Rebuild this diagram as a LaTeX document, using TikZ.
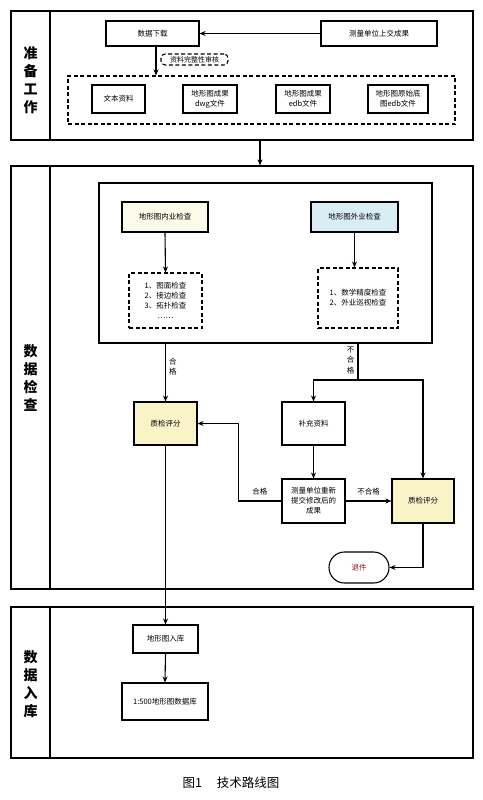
\documentclass[tikz,border=0pt]{standalone}
\usepackage{fontspec}
\setmainfont{Noto Sans CJK SC}
\usetikzlibrary{arrows.meta,shapes.misc}
\definecolor{qyel}{HTML}{F8F4C8}
\definecolor{lyel}{HTML}{FBFBEA}
\definecolor{lblue}{HTML}{D8EEF4}
\definecolor{dred}{HTML}{8B1A1A}
\tikzset{
  frame/.style={draw, line width=1.2pt, inner sep=0pt},
  box/.style={draw, line width=1.1pt, align=center, font=\fontsize{7.5}{10}\selectfont, inner sep=1pt},
  dbox/.style={draw, dashed, dash pattern=on 4pt off 2.5pt, line width=1.1pt, align=center, font=\fontsize{7.5}{10}\selectfont, inner sep=1pt},
  sect/.style={align=center, font=\fontsize{14}{18}\selectfont\bfseries},
  lab/.style={align=center, font=\fontsize{7.5}{10.5}\selectfont, inner sep=1pt},
  arr/.style={-{Stealth[length=6pt,width=5pt]}, line width=1.1pt},
  ln/.style={line width=1.1pt}
}
\begin{document}
\begin{tikzpicture}[x=1pt,y=-1pt]
\useasboundingbox (0,0) rectangle (482,800);
% frames
\node[frame, minimum width=462pt, minimum height=129pt] (f1) at (242,75.5) {};
\node[frame, minimum width=462pt, minimum height=423pt] (f2) at (242,377.5) {};
\node[frame, minimum width=462pt, minimum height=151pt] (f3) at (242,682.5) {};
\draw[line width=1.2pt] (50,11) -- (50,140);
\draw[line width=1.2pt] (50,166) -- (50,589);
\draw[line width=1.2pt] (50,607) -- (50,758);
\node[sect] (s1) at (30.5,80) {准\\备\\工\\作};
\node[sect] (s2) at (30.5,377.5) {数\\据\\检\\查};
\node[sect] (s3) at (30.5,684) {数\\据\\入\\库};
% part 1
\node[box, minimum width=93pt, minimum height=25pt] (dl) at (152.5,33.5) {数据下载};
\node[box, minimum width=116pt, minimum height=25pt] (sub) at (379,33.5) {测量单位上交成果};
\node[dbox, minimum width=387pt, minimum height=48pt] (db) at (261.5,100) {};
\node[dbox, rounded corners=4pt, minimum width=67pt, minimum height=11pt, font=\fontsize{7}{8}\selectfont, inner sep=0.5pt] (rev) at (194.5,59.5) {资料完整性审核};
\node[box, minimum width=53pt, minimum height=28pt] (b1) at (118.5,99) {文本资料};
\node[box, minimum width=54pt, minimum height=28pt] (b2) at (210,99) {地形图成果\\dwg文件};
\node[box, minimum width=54pt, minimum height=28pt] (b3) at (303,99) {地形图成果\\edb文件};
\node[box, minimum width=60pt, minimum height=28pt] (b4) at (398,99) {地形图原始底\\图edb文件};
\draw[arr] (sub.west) -- (dl.east);
\coordinate (dls) at (156,46);
\draw[arr] (dls) -- (dls |- db.north);
\coordinate (a1) at (260,140);
\draw[arr] (a1) -- (a1 |- f2.north);
% part 2
\node[draw, line width=1.2pt, minimum width=333pt, minimum height=160pt] (ib) at (265.5,263) {};
\node[box, fill=lyel, minimum width=86pt, minimum height=30pt] (nei) at (165,217) {地形图内业检查};
\node[box, fill=lblue, minimum width=87pt, minimum height=30pt] (wai) at (354.5,217) {地形图外业检查};
\node[dbox, minimum width=73pt, minimum height=55pt] (d1) at (165.5,300.5) {1、图面检查\\2、接边检查\\3、拓扑检查\\……};
\node[dbox, minimum width=80pt, minimum height=60pt] (d2) at (358,298) {1、数学精度检查\\2、外业巡视检查};
\draw[arr] (nei.south) -- (d1.north);
\draw[arr] (wai.south) -- (wai.south |- d2.north);
\node[box, fill=qyel, minimum width=63pt, minimum height=43pt] (q1) at (165.5,423.5) {质检评分};
\node[box, minimum width=63pt, minimum height=43pt] (bc) at (313.5,423.5) {补充资料};
\node[box, minimum width=63pt, minimum height=44pt] (cl) at (313.5,501) {测量单位重新\\提交修改后的\\成果};
\node[box, fill=qyel, minimum width=62pt, minimum height=44pt] (q2) at (423,501) {质检评分};
\node[box, rounded rectangle, minimum width=62pt, minimum height=31pt, text=dred] (tj) at (359,567.5) {退件};
\draw[arr] (ib.south -| q1.north) -- (q1.north) node[lab, pos=0.4, right=2pt] {合\\格};
\coordinate (sp) at (358,380);
\draw[ln] (ib.south -| sp) -- (sp) node[lab, pos=0.45, left=2pt] {不\\合\\格};
\draw[arr] (sp) -| (bc.north);
\draw[arr] (sp) -| (q2.north);
\draw[arr] (bc.south) -- (cl.north);
\draw[arr] (cl.west) -- ++(-43,0) node[lab, pos=0.5, above=4pt] {合格} |- (q1.east);
\draw[arr] (cl.east) -- (q2.west) node[lab, midway, above=4pt] {不合格};
\draw[arr] (q2.south) |- (tj.east);
% part 3
\node[box, minimum width=65pt, minimum height=28pt] (r1) at (165.5,639) {地形图入库};
\node[box, minimum width=86pt, minimum height=37pt] (r2) at (165,701.5) {1:500地形图数据库};
\draw[arr] (q1.south) -- (r1.north);
\draw[arr] (r1.south) -- (r2.north);
% caption
\node[font=\fontsize{12.5}{15}\selectfont] (cap) at (231,783) {图1\hspace{1.2em}技术路线图};
\end{tikzpicture}
\end{document}
